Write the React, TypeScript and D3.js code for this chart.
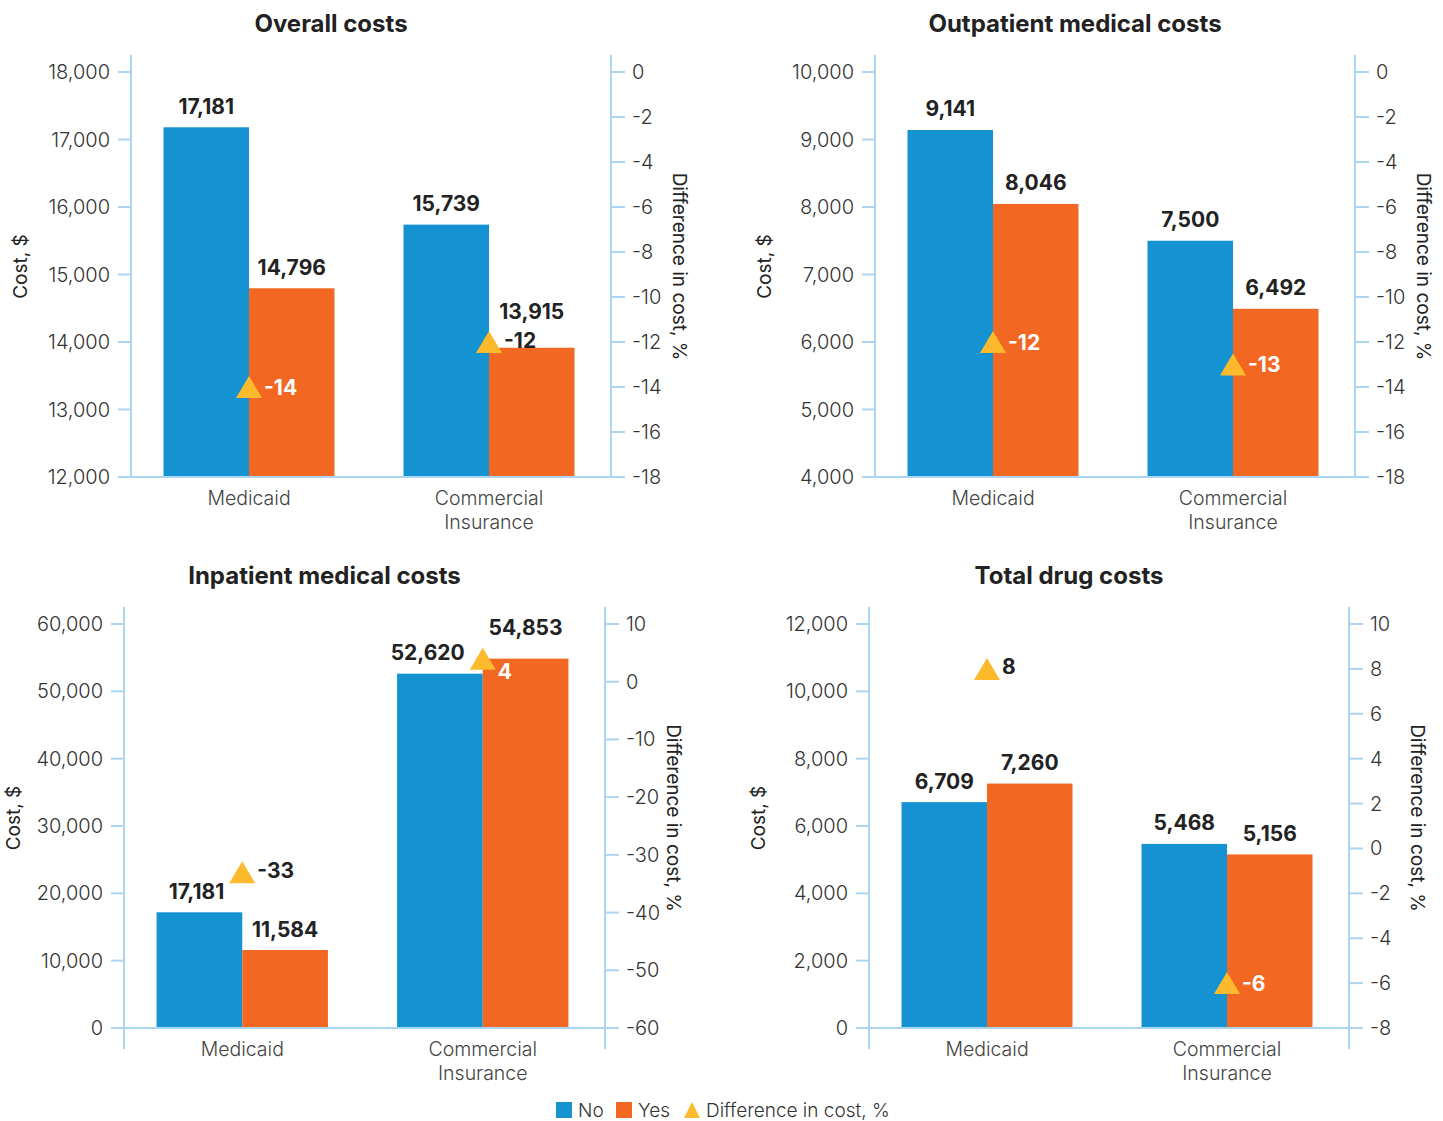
import React from "react";
import * as d3 from "d3";

const categories = ["Medicaid", "Commercial Insurance"];
const seriesNames = ["No", "Yes"];

const titles = ["Overall costs", "Outpatient medical costs", "Inpatient medical costs", "Total drug costs"];

const overallNo = [17181, 15739];
const overallYes = [14796, 13915];
const overallDiff = [-14, -12];

const outpatientNo = [9141, 7500];
const outpatientYes = [8046, 6492];
const outpatientDiff = [-12, -13];

const inpatientNo = [17181, 52620];
const inpatientYes = [11584, 54853];
const inpatientDiff = [-33, 4];

const drugNo = [6709, 5468];
const drugYes = [7260, 5156];
const drugDiff = [8, -6];

const costDomains: [number, number][] = [[12000, 18000], [4000, 10000], [0, 60000], [0, 12000]];
const costSteps = [1000, 1000, 10000, 2000];
const diffDomains: [number, number][] = [[-18, 0], [-18, 0], [-60, 10], [-8, 10]];
const diffSteps = [2, 2, 10, 2];

const BLUE = "#1592d1";
const ORANGE = "#f26822";
const GOLD = "#fdba2c";
const AXIS = "#acd5f2";
const FONT = "Inter, 'Open Sans', sans-serif";

const layouts = [
  { x0: 131, x1: 611, yTop: 72, yBot: 477, ext: 0 },
  { x0: 875, x1: 1355, yTop: 72, yBot: 477, ext: 0 },
  { x0: 124, x1: 605, yTop: 624, yBot: 1028, ext: 21 },
  { x0: 869, x1: 1349, yTop: 624, yBot: 1028, ext: 21 },
];

const fmt = d3.format(",");

function tri(cx: number, cy: number) {
  const w = 13, h = 11;
  return `M${cx - w},${cy + h}L${cx + w},${cy + h}L${cx},${cy - h}Z`;
}

function Panel({ idx, no, yes, diff }: { idx: number; no: number[]; yes: number[]; diff: number[] }) {
  const L = layouts[idx];
  const x = d3.scaleBand<string>().domain(categories).range([L.x0 - 2, L.x1 - 2]).paddingInner(0.2875).paddingOuter(0.14375);
  const xs = d3.scaleBand<string>().domain(seriesNames).range([0, x.bandwidth()]).padding(0);
  const y = d3.scaleLinear().domain(costDomains[idx]).range([L.yBot, L.yTop]);
  const yr = d3.scaleLinear().domain(diffDomains[idx]).range([L.yBot, L.yTop]);
  const cTicks = d3.range(costDomains[idx][0], costDomains[idx][1] + 1, costSteps[idx]);
  const dTicks = d3.range(diffDomains[idx][0], diffDomains[idx][1] + 0.001, diffSteps[idx]);
  const mid = (L.yTop + L.yBot) / 2;
  const cx = (L.x0 + L.x1) / 2;

  return (
    <g>
      <text x={cx - 40} y={L.yTop - 49} textAnchor="middle" dominantBaseline="central" fontSize={24} fontWeight={700} fill="#222">
        {titles[idx]}
      </text>
      {categories.map((c, i) => {
        const bx = x(c)!;
        const center = bx + x.bandwidth() / 2;
        const noTop = y(no[i]);
        const yesTop = y(yes[i]);
        const dy = yr(diff[i]);
        const inside = dy >= yesTop - 1;
        const dLabelY = inside ? Math.max(dy, yesTop + 13) : dy - 2;
        const triTop = dy - 11;
        let yesLabelY = yesTop - 21;
        if (yesLabelY + 10 > triTop - 20 && yesLabelY - 10 < dy + 11) yesLabelY = Math.min(yesLabelY, triTop - 20);
        const noLabelY = noTop - 21;
        const noCenter = bx + xs("No")! + xs.bandwidth() / 2;
        let noAnchor: "middle" | "end" = "middle";
        let noX = noCenter;
        if (noLabelY + 10 > dy - 11 && noLabelY - 10 < dy + 11 && noCenter + 37 > center - 13) {
          noAnchor = "end";
          noX = center - 18;
        }
        return (
          <g key={c}>
            <rect x={bx + xs("No")!} y={noTop} width={xs.bandwidth()} height={L.yBot - noTop} fill={BLUE} />
            <rect x={bx + xs("Yes")!} y={yesTop} width={xs.bandwidth()} height={L.yBot - yesTop} fill={ORANGE} />
            <text x={noX} y={noLabelY} textAnchor={noAnchor} dominantBaseline="central" fontSize={21} fontWeight={700} fill="#222">
              {fmt(no[i])}
            </text>
            <text x={bx + xs("Yes")! + xs.bandwidth() / 2} y={yesLabelY} textAnchor="middle" dominantBaseline="central" fontSize={21} fontWeight={700} fill="#222">
              {fmt(yes[i])}
            </text>
            <path d={tri(center, dy)} fill={GOLD} />
            <text x={center + 15} y={dLabelY} dominantBaseline="central" fontSize={21} fontWeight={700} fill={inside ? "#fff" : "#222"}>
              {diff[i]}
            </text>
            {c.split(" ").map((w, k) => (
              <text key={k} x={center} y={L.yBot + 21 + k * 24} textAnchor="middle" dominantBaseline="central" fontSize={19.5} fontWeight={300} fill="#444">
                {w}
              </text>
            ))}
          </g>
        );
      })}
      <line x1={L.x0 - 13} x2={L.x1 + 14} y1={L.yBot} y2={L.yBot} stroke={AXIS} strokeWidth={2} />
      <line x1={L.x0} x2={L.x0} y1={L.yTop - 17} y2={L.yBot + L.ext} stroke={AXIS} strokeWidth={2} />
      <line x1={L.x1} x2={L.x1} y1={L.yTop - 17} y2={L.yBot + L.ext} stroke={AXIS} strokeWidth={2} />
      {cTicks.map((t) => (
        <g key={"c" + t}>
          <line x1={L.x0 - 13} x2={L.x0} y1={y(t)} y2={y(t)} stroke={AXIS} strokeWidth={2} />
          <text x={L.x0 - 21} y={y(t)} textAnchor="end" dominantBaseline="central" fontSize={20} fontWeight={300} fill="#333">
            {fmt(t)}
          </text>
        </g>
      ))}
      {dTicks.map((t) => (
        <g key={"d" + t}>
          <line x1={L.x1} x2={L.x1 + 14} y1={yr(t)} y2={yr(t)} stroke={AXIS} strokeWidth={2} />
          <text x={L.x1 + 21} y={yr(t)} dominantBaseline="central" fontSize={20} fontWeight={300} fill="#333">
            {Math.round(t)}
          </text>
        </g>
      ))}
      <text transform={`translate(${L.x0 - 111},${mid - 8}) rotate(-90)`} textAnchor="middle" dominantBaseline="central" fontSize={19} fill="#222">
        Cost, $
      </text>
      <text transform={`translate(${L.x1 + 68},${mid - 8}) rotate(90)`} textAnchor="middle" dominantBaseline="central" fontSize={19} fill="#222">
        Difference in cost, %
      </text>
    </g>
  );
}

export default function App() {
  return (
    <svg width={1443} height={1121} style={{ position: "absolute", left: 0, top: 0, background: "#fff" }} fontFamily={FONT}>
      <rect width={1443} height={1121} fill="#fff" />
      <Panel idx={0} no={overallNo} yes={overallYes} diff={overallDiff} />
      <Panel idx={1} no={outpatientNo} yes={outpatientYes} diff={outpatientDiff} />
      <Panel idx={2} no={inpatientNo} yes={inpatientYes} diff={inpatientDiff} />
      <Panel idx={3} no={drugNo} yes={drugYes} diff={drugDiff} />
      <g>
        <rect x={556} y={1102} width={16} height={16} fill={BLUE} />
        <text x={578} y={1110} dominantBaseline="central" fontSize={19} fontWeight={300} fill="#333">No</text>
        <rect x={616} y={1102} width={16} height={16} fill={ORANGE} />
        <text x={638} y={1110} dominantBaseline="central" fontSize={19} fontWeight={300} fill="#333">Yes</text>
        <path d="M684,1118L700,1118L692,1102Z" fill={GOLD} />
        <text x={706} y={1110} dominantBaseline="central" fontSize={19} fontWeight={300} fill="#333">Difference in cost, %</text>
      </g>
    </svg>
  );
}
